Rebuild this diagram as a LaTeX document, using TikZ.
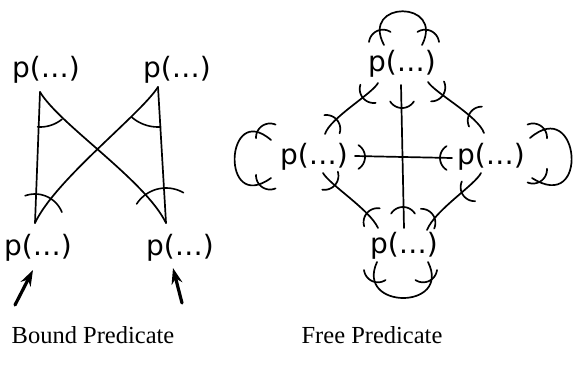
\documentclass[tikz,border=0pt]{standalone}
\usepackage{fontspec}
\setmainfont{Liberation Serif}
\newfontfamily\pfont{DejaVu Sans}
\usetikzlibrary{arrows.meta,calc}
\newcommand\tk[4][14]{\draw[tickline] plot[domain=#4-58:#4+58,samples=16,smooth] ({#2-#1*cos(#4)+#1*cos(\x)},{#3-#1*sin(#4)+#1*sin(\x)});}
\newcommand\angarc[5]{\draw[angarc] plot[domain=#4:#5,samples=20,smooth] ({#1+#3*cos(\x)},{#2+#3*sin(\x)});}
\begin{document}
\begin{tikzpicture}[x=1pt,y=-1pt, line cap=round, line join=round,
 pn/.style={font=\pfont\fontsize{28}{28}\selectfont, inner sep=0pt},
 captext/.style={font=\fontsize{24.5}{24.5}\selectfont, inner sep=0pt},
 edge/.style={line width=1.7pt},
 tickline/.style={line width=1.7pt},
 angarc/.style={line width=1.6pt},
 bigarrow/.style={line width=3.2pt, -{Stealth[length=16pt,width=11pt]}}]
\useasboundingbox (0,0) rectangle (577,375);
% ---------- Bound predicate ----------
\node[pn] (btl) at (46,70) {p(…)};
\node[pn] (btr) at (177,70) {p(…)};
\node[pn] (bbl) at (38,248) {p(…)};
\node[pn] (bbr) at (180,248) {p(…)};
\coordinate (a1) at (40,92);
\coordinate (a2) at (158,87);
\coordinate (a3) at (35,223);
\coordinate (a4) at (166,223);
\draw[edge] (a1) -- (a3);
\draw[edge] (a1) .. controls (60,125) and (145,180) .. (a4);
\draw[edge] (a2) -- (a4);
\draw[edge] (a2) .. controls (140,115) and (55,180) .. (a3);
\angarc{40}{92}{35}{51}{94}
\angarc{158}{87}{40}{86}{131}
\angarc{35}{223}{29}{-110}{-22}
\angarc{166}{223}{35}{-147}{-60}
\coordinate (ar1) at (15,305);
\coordinate (at1) at (33,270);
\coordinate (ar2) at (182,303);
\coordinate (at2) at (173,268);
\draw[bigarrow] (ar1) -- (at1);
\draw[bigarrow] (ar2) -- (at2);
\node[captext] (cb) at (93,335) {Bound Predicate};
% ---------- Free predicate ----------
\node[pn] (T) at (402,64) {p(…)};
\node[pn] (L) at (314,157) {p(…)};
\node[pn] (R) at (491,157) {p(…)};
\node[pn] (B) at (404,246) {p(…)};
\coordinate (tl1) at (378,83);  \coordinate (tl2) at (325,134);
\coordinate (tr1) at (428,82);  \coordinate (tr2) at (484,133);
\coordinate (lb1) at (323,173); \coordinate (lb2) at (378,228);
\coordinate (rb1) at (481,173); \coordinate (rb2) at (427,230);
\coordinate (tb1) at (401,85);  \coordinate (tb2) at (404,228);
\coordinate (lr1) at (355,156); \coordinate (lr2) at (452,158);
\coordinate (tt1) at (384,45);  \coordinate (tt2) at (422,45);
\coordinate (ll1) at (271,140); \coordinate (ll2) at (271,178);
\coordinate (rr1) at (530,138); \coordinate (rr2) at (532,178);
\coordinate (bb1) at (377,262); \coordinate (bb2) at (428,262);
\draw[edge] (tl1) .. controls (372,94) and (330,118) .. (tl2);
\draw[edge] (tr1) .. controls (435,93) and (478,116) .. (tr2);
\draw[edge] (lb1) .. controls (330,185) and (370,210) .. (lb2);
\draw[edge] (rb1) .. controls (475,185) and (435,210) .. (rb2);
\draw[edge] (tb1) -- (tb2);
\draw[edge] (lr1) -- (lr2);
\draw[edge] (tt1) .. controls (360,0) and (445,0) .. (tt2);
\draw[edge] (ll1) .. controls (225,100) and (220,215) .. (ll2);
\draw[edge] (rr1) .. controls (580,95) and (590,215) .. (rr2);
\draw[edge] (bb1) .. controls (355,310) and (452,310) .. (bb2);
\tk{363}{98}{140} \tk{337}{120}{-40}
\tk{443}{95}{33} \tk{470}{113}{-147}
\tk{335}{185}{41} \tk{367}{213}{-139}
\tk{463}{195}{146} \tk{433}{215}{-34}
\tk{402}{108}{90} \tk{403}{207}{-90}
\tk{365}{157}{0} \tk{440}{158}{180}
\tk{377}{31}{-115} \tk{431}{31}{-65}
\tk{262}{126}{-125} \tk{262}{187}{125}
\tk{541}{126}{-55} \tk{541}{181}{55}
\tk{372}{281}{115} \tk{429}{281}{65}
\node[captext] (cf) at (372,335) {Free Predicate};
\end{tikzpicture}
\end{document}
